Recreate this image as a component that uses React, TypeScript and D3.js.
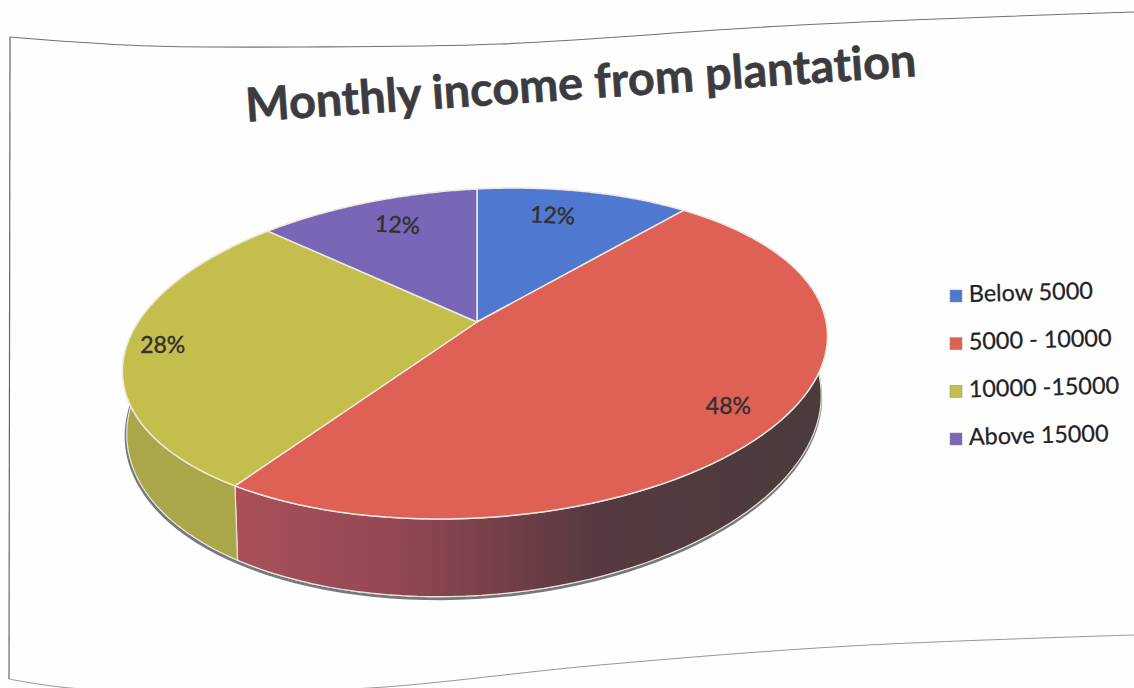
import React from "react";
import * as d3 from "d3";

// Chart content
const chartTitle = "Monthly income from plantation";
const categories = ["Below 5000", "5000 - 10000", "10000 -15000", "Above 15000"];
const shares = [12, 48, 28, 12];
const topColors = ["#4f79d0", "#df6054", "#c4be4c", "#7a66b6"];
const sideColors = ["#3f5fa5", "url(#redSide)", "#aaa74a", "#5e4f90"];

const WIDTH = 1134;
const HEIGHT = 688;

// Perspective disc: the hub is nearer the far edge than the near edge on screen.
const HUB_X = 477;
const HUB_Y = 322;
const SPREAD_LEFT = 348;
const SPREAD_RIGHT = 344;
const SPREAD_Y = 158.5;
const PERSPECTIVE = 0.1916;
const SHEAR = -0.05;

const project = (angle: number, radius = 1, depth = 0): [number, number] => {
  const u = Math.sin(angle) * radius;
  const v = Math.cos(angle) * radius;
  const w = 1 + PERSPECTIVE * v;
  const dx = ((u < 0 ? SPREAD_LEFT : SPREAD_RIGHT) * u) / w;
  const dy = (-SPREAD_Y * v) / w + SHEAR * dx;
  // depth runs from the top face (0) to the bottom rim (1)
  const sx = 1 - 0.015 * depth;
  const sy = 1 + 0.1 * depth;
  return [HUB_X + dx * sx - depth, HUB_Y + dy * sy + 58 * depth];
};

const line = d3.line<[number, number]>();
const sampleArc = (a0: number, a1: number) =>
  d3.range(0, 81).map((i) => a0 + ((a1 - a0) * i) / 80);

const arcs = d3.pie<number>().sort(null)(shares);

const topPath = (a0: number, a1: number) =>
  line([[HUB_X, HUB_Y], ...sampleArc(a0, a1).map((a) => project(a))]) + "Z";

const sidePath = (a0: number, a1: number) => {
  const angles = sampleArc(a0, a1);
  return (
    line([
      ...angles.map((a) => project(a)),
      ...angles.slice().reverse().map((a) => project(a, 1, 1)),
    ]) + "Z"
  );
};

const lowerRim = (offset: number) =>
  line(
    sampleArc(Math.PI * 0.5, Math.PI * 1.55).map((a) => {
      const [x, y] = project(a, 1, 1);
      return [x - offset * 0.3, y + offset] as [number, number];
    }),
  ) ?? "";

const frame = d3.line<[number, number]>().curve(d3.curveCatmullRom.alpha(0.5));
const topEdge: [number, number][] = [[10, 37], [60, 41], [150, 46], [300, 47], [500, 44], [800, 25], [1134, 12]];
const bottomEdge: [number, number][] = [[9, 679], [70, 688], [220, 691], [370, 688], [600, 665], [850, 646], [1134, 635]];

// Nudges for the percentage labels, in slice order
const labelNudges: [number, number, number][] = [
  [-18, 9, 3],
  [0, 3, 0],
  [-16, 2, 0],
  [15, 9, 3],
];

const uiFont = "Lato, 'Open Sans', sans-serif";

export default function App() {
  const legendY = d3.scalePoint<string>().domain(categories).range([296, 439]);
  return (
    <svg
      width={WIDTH}
      height={HEIGHT}
      viewBox={`0 0 ${WIDTH} ${HEIGHT}`}
      style={{ position: "absolute", left: 0, top: 0, background: "#fefefe" }}
    >
      <defs>
        <linearGradient id="redSide" gradientUnits="userSpaceOnUse" x1={238} x2={822} y1={0} y2={0}>
          <stop offset="0" stopColor="#a9505a" />
          <stop offset="0.27" stopColor="#934854" />
          <stop offset="0.5" stopColor="#6c3d46" />
          <stop offset="0.62" stopColor="#553a40" />
          <stop offset="1" stopColor="#4a3b3d" />
        </linearGradient>
      </defs>

      <path d={frame(topEdge) ?? ""} fill="none" stroke="#707076" strokeWidth={1.1} />
      <path d={frame(bottomEdge) ?? ""} fill="none" stroke="#96969c" strokeWidth={1} />
      <line x1={10} y1={37} x2={9} y2={679} stroke="#66666c" strokeWidth={1.2} />

      <text
        transform="translate(581 87) rotate(-3.9)"
        textAnchor="middle"
        dominantBaseline="middle"
        fontFamily={uiFont}
        fontWeight={700}
        fontSize={46.8}
        fill="#3c3c40"
        stroke="#3c3c40"
        strokeWidth={0.6}
        style={{ fontVariantLigatures: "none" }}
      >
        {chartTitle}
      </text>

      {/* Contact shadow under the front rim */}
      <path d={lowerRim(2)} fill="none" stroke="#77777f" strokeWidth={3} />

      {arcs.map((d, i) => (
        <path
          key={`side-${i}`}
          d={sidePath(d.startAngle, d.endAngle)}
          fill={sideColors[i]}
          stroke="#e9e3d6"
          strokeWidth={1.2}
        />
      ))}
      {arcs.map((d, i) => (
        <path
          key={`top-${i}`}
          d={topPath(d.startAngle, d.endAngle)}
          fill={topColors[i]}
          stroke="#efe9e2"
          strokeWidth={1.5}
          strokeLinejoin="round"
        />
      ))}

      {arcs.map((d, i) => {
        const [x, y] = project((d.startAngle + d.endAngle) / 2, 0.85);
        const [nx, ny, rot] = labelNudges[i];
        return (
          <text
            key={`label-${i}`}
            transform={`translate(${x + nx} ${y + ny}) rotate(${rot})`}
            textAnchor="middle"
            dominantBaseline="middle"
            fontFamily={uiFont}
            fontSize={23}
            fill="#33302f"
            stroke="#33302f"
            strokeWidth={0.4}
          >
            {`${shares[i]}%`}
          </text>
        );
      })}

      {categories.map((c, i) => {
        const cy = legendY(c) ?? 0;
        return (
          <g key={c}>
            <rect x={950} y={cy - 6} width={12} height={12} fill={topColors[i]} stroke="#8a8a98" strokeWidth={0.5} />
            <text
              transform={`translate(969 ${cy + 6}) rotate(-1.5)`}
              fontFamily={uiFont}
              fontSize={23.4}
              fill="#222226"
              stroke="#222226"
              strokeWidth={0.25}
            >
              {c}
            </text>
          </g>
        );
      })}
    </svg>
  );
}
